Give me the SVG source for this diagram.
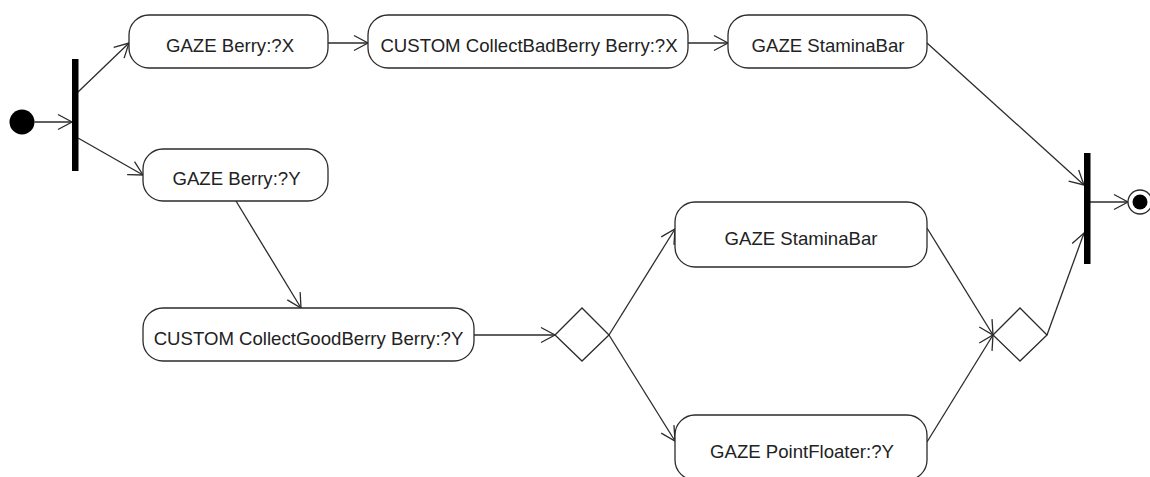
<svg xmlns="http://www.w3.org/2000/svg" width="1150" height="477" viewBox="0 0 1150 477">
  <style>
    .action { fill: #ffffff; stroke: #2b2b2b; stroke-width: 1.3; }
    .label { font-family: "Liberation Sans", Arial, sans-serif; font-size: 18.6px; fill: #222222; text-anchor: middle; }
    .bar { fill: #000000; }
    .decision { fill: #ffffff; stroke: #2b2b2b; stroke-width: 1.3; }
    .flow { fill: none; stroke: #2b2b2b; stroke-width: 1.3; marker-end: url(#open-arrow); }
  </style>
  <defs>
    <marker id="open-arrow" markerUnits="userSpaceOnUse" markerWidth="20" markerHeight="20" viewBox="-16 -10 18 20" refX="0" refY="0" orient="auto">
      <path d="M -14 -7.5 L 0 0 L -14 7.5" fill="none" stroke="#2b2b2b" stroke-width="1.3"/>
    </marker>
  </defs>

  <rect width="1150" height="477" fill="#ffffff"/>

  <!-- control flows -->
  <g id="connectors">
    <line class="flow" x1="34.5" y1="122" x2="72" y2="122"/>
    <line class="flow" x1="78" y1="92" x2="129" y2="43"/>
    <line class="flow" x1="78" y1="138" x2="143" y2="175"/>
    <line class="flow" x1="328" y1="43" x2="368" y2="43"/>
    <line class="flow" x1="688" y1="43" x2="728" y2="43"/>
    <line class="flow" x1="927" y1="43" x2="1084" y2="185"/>
    <line class="flow" x1="236" y1="201" x2="301" y2="308"/>
    <line class="flow" x1="474" y1="335" x2="555" y2="335"/>
    <line class="flow" x1="609" y1="335" x2="675" y2="229"/>
    <line class="flow" x1="609" y1="335" x2="675" y2="441"/>
    <line class="flow" x1="927" y1="228" x2="993" y2="335"/>
    <line class="flow" x1="927" y1="442" x2="993" y2="335"/>
    <line class="flow" x1="1047" y1="335" x2="1084" y2="233"/>
    <line class="flow" x1="1090" y1="202" x2="1128" y2="202"/>
  </g>

  <!-- start node -->
  <g id="initial">
    <circle cx="22" cy="122" r="12.5" fill="#000000"/>
  </g>

  <!-- fork -->
  <g id="fork">
    <rect class="bar" x="72" y="59" width="6.5" height="112"/>
  </g>

  <g id="gaze-berry-x">
    <rect class="action" x="129" y="15" width="199" height="53" rx="20" ry="20"/>
    <text class="label" x="230" y="51.5">GAZE Berry:?X</text>
  </g>

  <g id="collect-bad-berry">
    <rect class="action" x="368" y="15" width="320" height="53" rx="20" ry="20"/>
    <text class="label" x="529" y="51.5">CUSTOM CollectBadBerry Berry:?X</text>
  </g>

  <g id="gaze-staminabar-1">
    <rect class="action" x="728" y="15" width="199" height="53" rx="20" ry="20"/>
    <text class="label" x="828" y="51.5">GAZE StaminaBar</text>
  </g>

  <g id="gaze-berry-y">
    <rect class="action" x="143" y="149" width="185" height="52" rx="20" ry="20"/>
    <text class="label" x="236.5" y="185">GAZE Berry:?Y</text>
  </g>

  <g id="collect-good-berry">
    <rect class="action" x="143" y="308" width="331" height="53" rx="20" ry="20"/>
    <text class="label" x="308.5" y="345">CUSTOM CollectGoodBerry Berry:?Y</text>
  </g>

  <!-- decision -->
  <g id="decision">
    <polygon class="decision" points="555,335 582,308 609,335 582,361"/>
  </g>

  <g id="gaze-staminabar-2">
    <rect class="action" x="675" y="202" width="252" height="65" rx="20" ry="20"/>
    <text class="label" x="801" y="245">GAZE StaminaBar</text>
  </g>

  <g id="gaze-pointfloater">
    <rect class="action" x="675" y="415" width="252" height="65" rx="20" ry="20"/>
    <text class="label" x="802" y="458">GAZE PointFloater:?Y</text>
  </g>

  <!-- merge -->
  <g id="merge">
    <polygon class="decision" points="993,335 1020,308 1047,335 1020,361"/>
  </g>

  <!-- join -->
  <g id="join">
    <rect class="bar" x="1084" y="153" width="6.5" height="111"/>
  </g>

  <!-- end node -->
  <g id="final">
    <circle cx="1140" cy="202" r="12" fill="#ffffff" stroke="#2b2b2b" stroke-width="1.3"/>
    <circle cx="1140" cy="202" r="7.5" fill="#000000"/>
  </g>
</svg>
